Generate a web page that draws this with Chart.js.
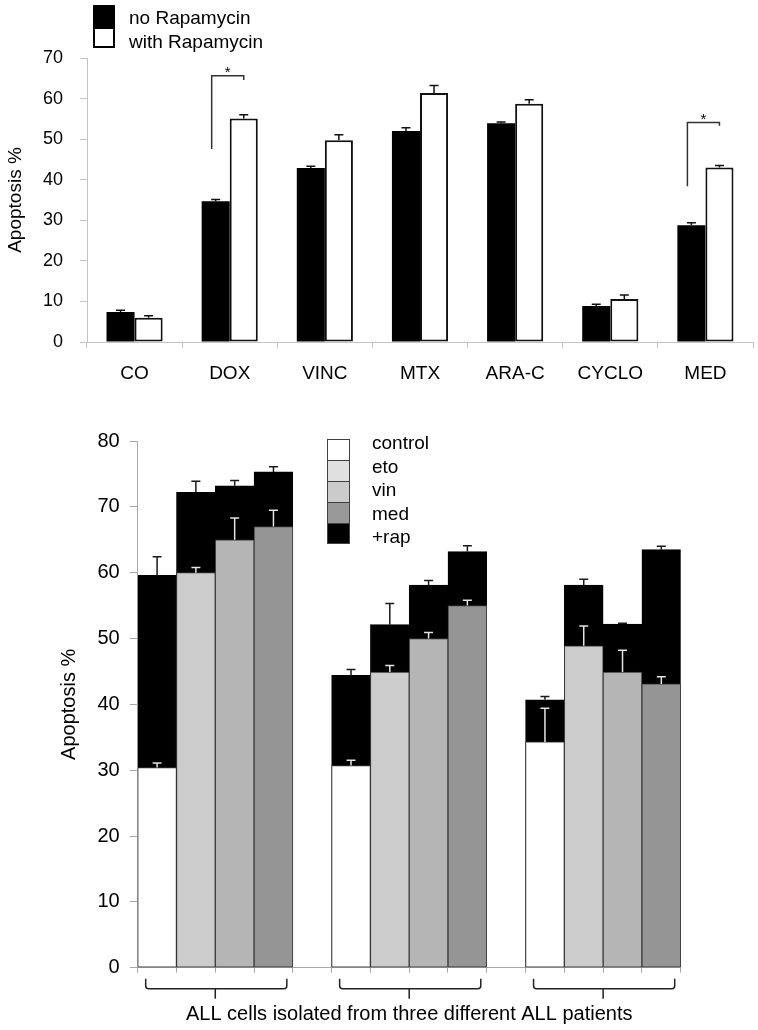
<!DOCTYPE html>
<html lang="en">
<head>
    <meta charset="UTF-8">
    <title>Apoptosis with and without Rapamycin</title>
    <script src="https://cdn.jsdelivr.net/npm/chart.js@4.4.0/dist/chart.umd.min.js"></script>
    <style>
        * {
            margin: 0;
            padding: 0;
            box-sizing: border-box;
        }

        body {
            width: 758px;
            height: 1030px;
            background: #fff;
            position: relative;
            overflow: hidden;
            font-family: 'Liberation Sans', Arial, sans-serif;
        }

        .panel {
            position: absolute;
            left: 0;
            width: 758px;
        }

        #topPanel { top: 0; height: 400px; }
        #bottomPanel { top: 400px; height: 630px; }

        .legend-box { position: absolute; }

        .legend-text {
            position: absolute;
            font-size: 19px;
            line-height: 22px;
            color: #000;
            white-space: nowrap;
        }
    </style>
</head>
<body>
    <div id="topPanel" class="panel">
        <canvas id="topChart" width="758" height="400"></canvas>
    </div>
    <div id="bottomPanel" class="panel">
        <canvas id="bottomChart" width="758" height="630"></canvas>
    </div>

    <!-- legend, top chart -->
    <div class="legend-box" style="left:93px;top:5px;width:22px;height:22px;background:#000"></div>
    <div class="legend-box" style="left:93px;top:27px;width:22px;height:21px;background:#fff;border:2px solid #000"></div>
    <div class="legend-text" style="left:129px;top:7px">no Rapamycin</div>
    <div class="legend-text" style="left:129px;top:31px">with Rapamycin</div>

    <!-- legend, bottom chart (filled in below) -->
    <div id="bottomLegend"></div>

    <script>
        // ---- top chart data ----
        const drugs = ['CO', 'DOX', 'VINC', 'MTX', 'ARA-C', 'CYCLO', 'MED'];
        const noRapa = [7.4, 34.7, 42.9, 52.0, 53.9, 8.9, 28.8];
        const noRapaErr = [0.4, 0.4, 0.4, 0.8, 0.3, 0.4, 0.6];
        const withRapa = [6.0, 55.1, 49.7, 61.4, 58.7, 10.6, 43.0];
        const withRapaErr = [0.5, 0.9, 1.4, 1.8, 1.0, 1.0, 0.5];

        // significance brackets (category index, top, left leg end, right leg end)
        const sigIndex = [1, 6];
        const sigTop = [65.6, 54.1];
        const sigLeftEnd = [47.6, 38.4];
        const sigRightEnd = [64.6, 53.3];

        // ---- bottom chart data ----
        const slotLabels = ['control', 'eto', 'vin', 'med', '',
                            'control', 'eto', 'vin', 'med', '',
                            'control', 'eto', 'vin', 'med'];
        const treatValues = [30.4, 60.0, 65.0, 67.0, null, 30.7, 44.9, 50.0, 55.0, null, 34.3, 48.9, 44.9, 43.1];
        const treatErr = [0.7, 0.8, 3.3, 2.5, null, 0.8, 1.0, 0.9, 0.8, null, 5.1, 3.0, 3.3, 1.1];
        const rapValues = [59.6, 72.2, 73.2, 75.3, null, 44.4, 52.1, 58.1, 63.2, null, 40.7, 58.1, 52.2, 63.5];
        const rapErr = [2.8, 1.7, 0.8, 0.8, null, 0.9, 3.2, 0.7, 0.9, null, 0.5, 0.9, 0.1, 0.5];
        const patientGroups = [[0, 3], [5, 8], [10, 13]];

        const barColors = { control: '#ffffff', eto: '#cccccc', vin: '#b5b5b5', med: '#959595' };
        const legendLabels = ['control', 'eto', 'vin', 'med', '+rap'];
        const legendColors = ['#ffffff', '#e0e0e0', '#cbcbcb', '#999999', '#000000'];

        Chart.defaults.font.family = "'Liberation Sans', Arial, sans-serif";
        Chart.defaults.color = '#000';
        Chart.defaults.animation = false;

        // build bottom legend
        const legendHost = document.getElementById('bottomLegend');
        legendLabels.forEach((name, i) => {
            const box = document.createElement('div');
            box.className = 'legend-box';
            box.style.cssText = `left:327px;top:${439 + i * 21}px;width:23px;height:${i === 4 ? 21 : 22}px;` +
                `background:${legendColors[i]};border:1.5px solid #404040`;
            legendHost.appendChild(box);
            const txt = document.createElement('div');
            txt.className = 'legend-text';
            txt.style.cssText = `left:372px;top:${432 + i * 23.5}px`;
            txt.textContent = name;
            legendHost.appendChild(txt);
        });

        // error bars (plus side only) drawn from each dataset's errors array
        const errorBars = {
            id: 'errorBars',
            afterDatasetsDraw(chart) {
                const ctx = chart.ctx;
                const y = chart.scales.y;
                chart.data.datasets.forEach((ds, i) => {
                    if (!ds.errors) return;
                    const meta = chart.getDatasetMeta(i);
                    ctx.save();
                    ctx.strokeStyle = ds.errorColor;
                    ctx.lineWidth = 1.5;
                    meta.data.forEach((bar, j) => {
                        const v = ds.data[j], e = ds.errors[j];
                        if (v == null || e == null) return;
                        const y0 = y.getPixelForValue(v);
                        const y1 = y.getPixelForValue(v + e);
                        ctx.beginPath();
                        ctx.moveTo(bar.x, y0);
                        ctx.lineTo(bar.x, y1);
                        ctx.moveTo(bar.x - 4.5, y1);
                        ctx.lineTo(bar.x + 4.5, y1);
                        ctx.stroke();
                    });
                    ctx.restore();
                });
            }
        };

        const sigBrackets = {
            id: 'sigBrackets',
            afterDatasetsDraw(chart) {
                const ctx = chart.ctx;
                const y = chart.scales.y;
                const m0 = chart.getDatasetMeta(0);
                const m1 = chart.getDatasetMeta(1);
                ctx.save();
                ctx.strokeStyle = '#333';
                ctx.lineWidth = 1.5;
                ctx.fillStyle = '#000';
                ctx.font = "15px 'Liberation Sans', Arial, sans-serif";
                ctx.textAlign = 'center';
                ctx.textBaseline = 'alphabetic';
                sigIndex.forEach((idx, k) => {
                    const xl = m0.data[idx].x - 4;
                    const xr = m1.data[idx].x;
                    const yt = y.getPixelForValue(sigTop[k]);
                    ctx.beginPath();
                    ctx.moveTo(xl, y.getPixelForValue(sigLeftEnd[k]));
                    ctx.lineTo(xl, yt);
                    ctx.lineTo(xr, yt);
                    ctx.lineTo(xr, y.getPixelForValue(sigRightEnd[k]));
                    ctx.stroke();
                    ctx.fillText('*', (xl + xr) / 2, yt + 1);
                });
                ctx.restore();
            }
        };

        const patientBrackets = {
            id: 'patientBrackets',
            afterDraw(chart) {
                const ctx = chart.ctx;
                const x = chart.scales.x;
                const slot = x.width / slotLabels.length;
                const base = x.top;
                ctx.save();
                ctx.strokeStyle = '#222';
                ctx.lineWidth = 1.5;
                patientGroups.forEach(([a, b]) => {
                    const left = x.getPixelForValue(a) - slot / 2 + 8;
                    const right = x.getPixelForValue(b) + slot / 2 - 6;
                    const mid = (x.getPixelForValue(a) + x.getPixelForValue(b)) / 2;
                    const yl = base + 21;
                    ctx.beginPath();
                    ctx.moveTo(left, base + 11);
                    ctx.arcTo(left, yl, left + 4, yl, 3);
                    ctx.lineTo(right - 4, yl);
                    ctx.arcTo(right, yl, right, base + 11, 3);
                    ctx.lineTo(right, base + 11);
                    ctx.moveTo(mid, yl);
                    ctx.lineTo(mid, base + 31);
                    ctx.stroke();
                });
                ctx.restore();
            }
        };

        // ---- top chart ----
        new Chart(document.getElementById('topChart'), {
            type: 'bar',
            data: {
                labels: drugs,
                datasets: [{
                    label: 'no Rapamycin',
                    data: noRapa,
                    errors: noRapaErr,
                    errorColor: '#111',
                    backgroundColor: '#000',
                    borderWidth: 0,
                    categoryPercentage: 0.59,
                    barPercentage: 1.0
                }, {
                    label: 'with Rapamycin',
                    data: withRapa,
                    errors: withRapaErr,
                    errorColor: '#111',
                    backgroundColor: '#fff',
                    borderColor: '#111',
                    borderWidth: 2,
                    borderSkipped: false,
                    categoryPercentage: 0.59,
                    barPercentage: 1.0
                }]
            },
            options: {
                responsive: false,
                devicePixelRatio: 1,
                layout: { padding: { top: 58, right: 5, left: 0, bottom: 0 } },
                plugins: { legend: { display: false }, tooltip: { enabled: false } },
                scales: {
                    x: {
                        afterFit(scale) { scale.height = 58; },
                        grid: { drawOnChartArea: false, color: '#c4c4c4', tickLength: 6 },
                        border: { color: '#c4c4c4' },
                        ticks: { font: { size: 19 }, padding: 14, maxRotation: 0 }
                    },
                    y: {
                        min: 0,
                        max: 70,
                        afterFit(scale) { scale.width = 87; },
                        grid: { drawOnChartArea: false, color: '#c4c4c4', tickLength: 7 },
                        border: { color: '#c4c4c4' },
                        ticks: { stepSize: 10, font: { size: 18 }, padding: 17 },
                        title: { display: true, text: 'Apoptosis %', font: { size: 19 }, padding: { top: 4 } }
                    }
                }
            },
            plugins: [errorBars, sigBrackets]
        });

        // ---- bottom chart ----
        new Chart(document.getElementById('bottomChart'), {
            type: 'bar',
            data: {
                labels: slotLabels,
                datasets: [{
                    label: 'treatment',
                    data: treatValues,
                    errors: treatErr,
                    errorColor: '#e4e4e4',
                    backgroundColor: slotLabels.map(l => barColors[l] || '#fff'),
                    borderColor: '#3a3a3a',
                    borderWidth: 1,
                    borderSkipped: false,
                    grouped: false,
                    categoryPercentage: 1.0,
                    barPercentage: 1.0
                }, {
                    label: '+rap',
                    data: rapValues,
                    errors: rapErr,
                    errorColor: '#1a1a1a',
                    backgroundColor: '#000',
                    borderColor: '#000',
                    borderWidth: 1,
                    grouped: false,
                    categoryPercentage: 1.0,
                    barPercentage: 1.0
                }]
            },
            options: {
                responsive: false,
                devicePixelRatio: 1,
                layout: { padding: { top: 41, right: 77.3, left: 0, bottom: 0 } },
                plugins: { legend: { display: false }, tooltip: { enabled: false } },
                scales: {
                    x: {
                        afterFit(scale) { scale.height = 62.3; },
                        grid: { drawOnChartArea: false, color: '#a8a8a8', tickLength: 5 },
                        border: { color: '#a8a8a8' },
                        ticks: { callback: () => '', maxRotation: 0, autoSkip: false },
                        title: {
                            display: true,
                            text: 'ALL cells isolated from three different ALL patients',
                            font: { size: 20 },
                            padding: { bottom: 4 }
                        }
                    },
                    y: {
                        min: 0,
                        max: 80,
                        afterFit(scale) { scale.width = 137.7; },
                        grid: { drawOnChartArea: false, color: '#a8a8a8', tickLength: 8 },
                        border: { color: '#a8a8a8' },
                        ticks: { stepSize: 10, font: { size: 20 }, padding: 10 },
                        title: { display: true, text: 'Apoptosis %', font: { size: 20 }, padding: { top: 57 } }
                    }
                }
            },
            plugins: [errorBars, patientBrackets]
        });
    </script>
</body>
</html>
